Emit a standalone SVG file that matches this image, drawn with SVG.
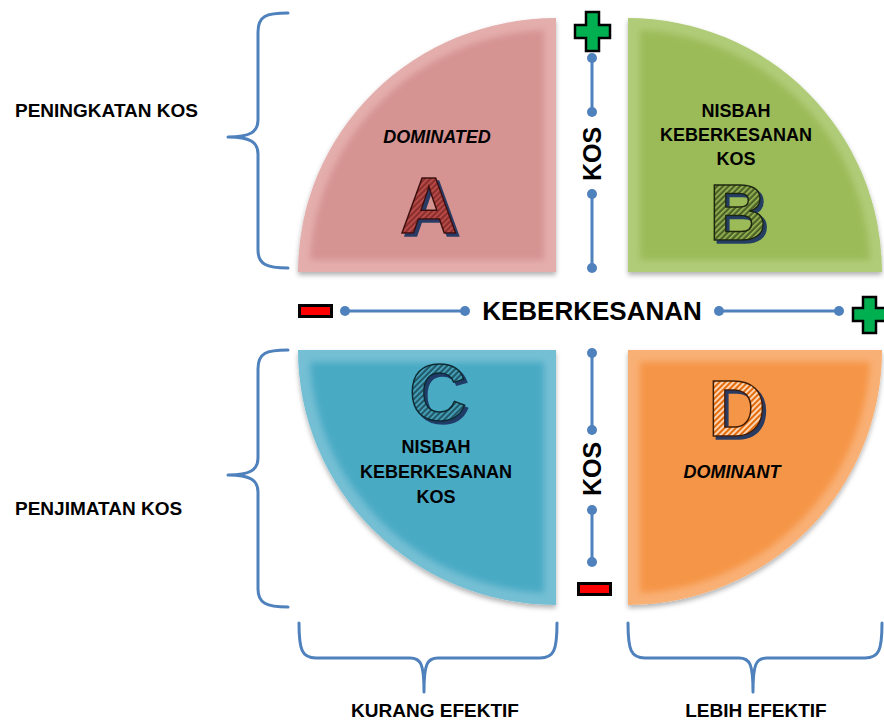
<svg xmlns="http://www.w3.org/2000/svg" width="884" height="721" viewBox="0 0 884 721">
<style>
.t{font-family:"Liberation Sans",Arial,sans-serif;font-weight:bold;fill:#000}
.it{font-style:italic}
.ax{stroke:#4f81bd;stroke-width:3;fill:none}
.dot{fill:#4f81bd}
.br{stroke:#4f81bd;stroke-width:3;fill:none;stroke-linecap:round;stroke-linejoin:round}
.big{font-family:"Liberation Sans",Arial,sans-serif;font-weight:bold;font-size:80px;stroke-width:1.5}
.plus{fill:#00b050;stroke:#000;stroke-width:2.5}
.minus{fill:#ff0000;stroke:#000;stroke-width:3}
</style>
<defs>
<filter id="sh" x="-10%" y="-10%" width="120%" height="120%">
<feDropShadow dx="0" dy="3" stdDeviation="2.5" flood-color="#000" flood-opacity="0.3"/>
</filter>
<filter id="bl" x="-10%" y="-10%" width="120%" height="120%">
<feGaussianBlur stdDeviation="3"/>
</filter>
<filter id="ls" x="-20%" y="-20%" width="140%" height="140%">
<feDropShadow dx="3" dy="3" stdDeviation="0.6" flood-color="#1f3864" flood-opacity="0.95"/>
</filter>
<pattern id="hA" width="4" height="4" patternUnits="userSpaceOnUse" patternTransform="rotate(45)"><rect width="4" height="4" fill="#8b2f2d"/><rect width="1.6" height="4" fill="#c0504d"/></pattern>
<pattern id="hB" width="4" height="4" patternUnits="userSpaceOnUse" patternTransform="rotate(45)"><rect width="4" height="4" fill="#4f6228"/><rect width="1.6" height="4" fill="#9bbb59"/></pattern>
<pattern id="hC" width="4" height="4" patternUnits="userSpaceOnUse" patternTransform="rotate(45)"><rect width="4" height="4" fill="#215968"/><rect width="1.6" height="4" fill="#4bacc6"/></pattern>
<pattern id="hD" width="4" height="4" patternUnits="userSpaceOnUse" patternTransform="rotate(45)"><rect width="4" height="4" fill="#e46c0a"/><rect width="2" height="4" fill="#fcd5b4"/></pattern>
</defs>
<rect width="884" height="721" fill="#fff"/>

<g id="quadA">
<path d="M298,272 A258,254 0 0 1 556,18 L556,272 Z" fill="#e4aeac" filter="url(#sh)"/>
<path d="M310,260 A246,242 0 0 1 544,30 L544,260 Z" fill="#d59392" filter="url(#bl)"/>
<text class="t it" x="437" y="143" font-size="18" text-anchor="middle">DOMINATED</text>
<text class="big" x="429" y="233" text-anchor="middle" fill="url(#hA)" stroke="#3a0f0e" filter="url(#ls)">A</text>
</g>

<g id="quadB">
<path d="M628,18 A254,254 0 0 1 882,272 L628,272 Z" fill="#b0cc78" filter="url(#sh)"/>
<path d="M640,30 A242,242 0 0 1 870,260 L640,260 Z" fill="#9bbb59" filter="url(#bl)"/>
<text class="t" x="736" y="117" font-size="18" text-anchor="middle">NISBAH</text>
<text class="t" x="736" y="141" font-size="18" text-anchor="middle">KEBERKESANAN</text>
<text class="t" x="736" y="165" font-size="18" text-anchor="middle">KOS</text>
<text class="big" x="738" y="240" text-anchor="middle" fill="url(#hB)" stroke="#1d2610" filter="url(#ls)" font-size="72">B</text>
</g>

<g id="quadC">
<path d="M298,350 L556,350 L556,605 A258,255 0 0 1 298,350 Z" fill="#74bfd4" filter="url(#sh)"/>
<path d="M310,362 L544,362 L544,593 A246,243 0 0 1 310,362 Z" fill="#4aaac4" filter="url(#bl)"/>
<text class="big" x="438" y="420" text-anchor="middle" fill="url(#hC)" stroke="#0f2a32" filter="url(#ls)">C</text>
<text class="t" x="436" y="453" font-size="18" text-anchor="middle">NISBAH</text>
<text class="t" x="436" y="478" font-size="18" text-anchor="middle">KEBERKESANAN</text>
<text class="t" x="436" y="503" font-size="18" text-anchor="middle">KOS</text>
</g>

<g id="quadD">
<path d="M628,350 L882,350 A254,255 0 0 1 628,605 Z" fill="#f9b074" filter="url(#sh)"/>
<path d="M640,362 L870,362 A242,243 0 0 1 640,593 Z" fill="#f59547" filter="url(#bl)"/>
<text class="big" x="737" y="436" text-anchor="middle" fill="url(#hD)" stroke="#3e1c03" filter="url(#ls)">D</text>
<text class="t it" x="732" y="478" font-size="18" text-anchor="middle">DOMINANT</text>
</g>

<g id="connectors">
<line class="ax" x1="592" y1="58" x2="592" y2="112"/>
<line class="ax" x1="592" y1="194" x2="592" y2="268"/>
<line class="ax" x1="592" y1="353" x2="592" y2="430"/>
<line class="ax" x1="592" y1="510" x2="592" y2="562"/>
<line class="ax" x1="345" y1="311" x2="465" y2="311"/>
<line class="ax" x1="719" y1="311" x2="839" y2="311"/>
<circle class="dot" cx="592" cy="58" r="5"/>
<circle class="dot" cx="592" cy="112" r="5"/>
<circle class="dot" cx="592" cy="194" r="5"/>
<circle class="dot" cx="592" cy="268" r="5"/>
<circle class="dot" cx="592" cy="353" r="5"/>
<circle class="dot" cx="592" cy="430" r="5"/>
<circle class="dot" cx="592" cy="510" r="5"/>
<circle class="dot" cx="592" cy="562" r="5"/>
<circle class="dot" cx="345" cy="311" r="5"/>
<circle class="dot" cx="465" cy="311" r="5"/>
<circle class="dot" cx="719" cy="311" r="5"/>
<circle class="dot" cx="839" cy="311" r="5"/>
</g>

<g id="axisLabels">
<text class="t" x="592" y="320" font-size="26" text-anchor="middle">KEBERKESANAN</text>
<text class="t" transform="translate(601,154) rotate(-90)" font-size="25" text-anchor="middle">KOS</text>
<text class="t" transform="translate(601,469) rotate(-90)" font-size="25" text-anchor="middle">KOS</text>
</g>

<g id="signs">
<path class="plus" d="M586,12 h13 v13 h11 v13 h-11 v13 h-13 v-13 h-11 v-13 h11 z"/>
<path class="plus" d="M863,297 h13 v11 h10 v13 h-10 v12 h-13 v-12 h-10 v-13 h10 z"/>
<rect class="minus" x="299.5" y="305.5" width="32" height="11"/>
<rect class="minus" x="578.5" y="583.5" width="32" height="11"/>
</g>

<g id="brackets">
<path class="br" d="M288,13 C266,13 258,16 258,32 L258,120 C258,132 250,137 228,137 C250,137 258,142 258,154 L258,250 C258,264 266,268 288,268"/>
<path class="br" d="M288,350 C266,350 258,353 258,369 L258,458 C258,470 250,475 228,475 C250,475 258,480 258,492 L258,589 C258,603 266,607 288,607"/>
<path class="br" d="M299,623 C299,650 302,658 316,658 L410,658 C421,658 424,664 424,692 C424,664 427,658 438,658 L540,658 C554,658 557,650 557,623"/>
<path class="br" d="M628,623 C628,650 631,658 645,658 L739,658 C750,658 753,664 753,692 C753,664 756,658 767,658 L865,658 C879,658 882,650 882,623"/>
</g>

<g id="sideLabels">
<text class="t" x="15" y="117" font-size="19">PENINGKATAN KOS</text>
<text class="t" x="15" y="515" font-size="19">PENJIMATAN KOS</text>
<text class="t" x="435" y="717" font-size="19" text-anchor="middle">KURANG EFEKTIF</text>
<text class="t" x="756" y="717" font-size="19" text-anchor="middle">LEBIH EFEKTIF</text>
</g>
</svg>
